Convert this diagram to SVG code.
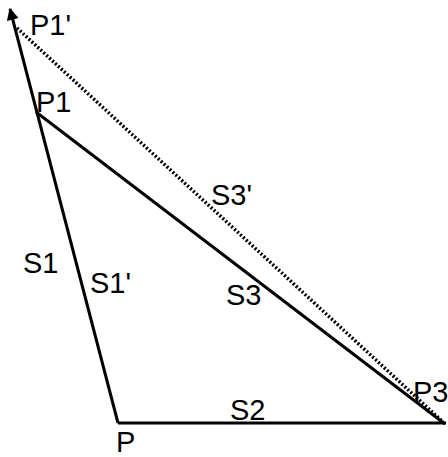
<svg xmlns="http://www.w3.org/2000/svg" width="448" height="457" viewBox="0 0 448 457">
<style>
.s{stroke:#000;stroke-width:3;fill:none;stroke-linecap:butt}
.d{stroke:#000;stroke-width:3.5;fill:none;stroke-dasharray:2 2}
text{font-family:"Liberation Sans",Arial,sans-serif;font-size:29px;fill:#000}
</style>
<defs>
<marker id="ah" viewBox="0 0 10 10" refX="9" refY="5" markerWidth="4.5" markerHeight="4" orient="auto" markerUnits="strokeWidth">
<path d="M0,0 L10,5 L0,10 z" fill="#000"/>
</marker>
</defs>
<rect width="448" height="457" fill="#fff"/>
<g id="connectors">
<line class="s" x1="118" y1="423" x2="10" y2="9" marker-end="url(#ah)"/>
<line class="s" x1="36" y1="112" x2="445" y2="424"/>
<line class="s" x1="118" y1="423" x2="446" y2="423"/>
<line class="d" x1="17" y1="28" x2="443" y2="422"/>
</g>
<g id="P1p"><text x="30" y="35">P1'</text></g>
<g id="P1"><text x="36" y="112">P1</text></g>
<g id="P"><text x="116" y="452">P</text></g>
<g id="P3"><text x="413" y="402">P3</text></g>
<g id="S1"><text x="23" y="273">S1</text></g>
<g id="S1p"><text x="90" y="293">S1'</text></g>
<g id="S2"><text x="230" y="420">S2</text></g>
<g id="S3"><text x="226" y="305">S3</text></g>
<g id="S3p"><text x="211" y="205">S3'</text></g>
</svg>
